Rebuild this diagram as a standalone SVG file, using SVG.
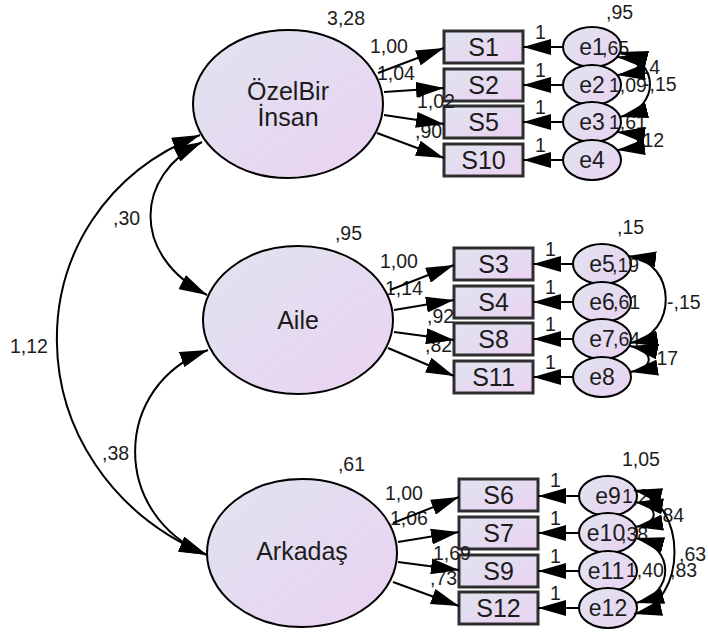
<svg xmlns="http://www.w3.org/2000/svg" width="708" height="634" viewBox="0 0 708 634">
<defs>
<linearGradient id="g" x1="0" y1="0" x2="1" y2="1">
<stop offset="0" stop-color="#dfe4ef"/>
<stop offset="1" stop-color="#ebd2f2"/>
</linearGradient>
<marker id="ah" markerUnits="userSpaceOnUse" markerWidth="28" markerHeight="16" viewBox="0 0 28 16" refX="28" refY="8" orient="auto-start-reverse">
<path d="M0,0 L28,8 L0,16 z" fill="#000"/>
</marker>
</defs>
<style>
.lat{fill:url(#g);stroke:#000;stroke-width:2}
.box{fill:url(#g);stroke:#2e2e2e;stroke-width:3}
.err{fill:url(#g);stroke:#000;stroke-width:2}
text{font-family:"Liberation Sans",Arial,sans-serif;fill:#1c1c1c}
.tl{font-size:25px;text-anchor:middle}
.tb{font-size:25px;text-anchor:middle}
.te{font-size:23px;text-anchor:middle}
.n{font-size:19.5px}
.ne{font-size:19.5px;text-anchor:end}
#connectors path,#connectors line{fill:none;stroke:#000;stroke-width:2}
.d{marker-end:url(#ah)}
.dd{marker-start:url(#ah);marker-end:url(#ah)}
</style>
<rect width="708" height="634" fill="#fff"/>

<g id="OzelBirInsan"><ellipse class="lat" cx="288" cy="104" rx="95" ry="74"/><text class="tl" x="288" y="100">ÖzelBir</text><text class="tl" x="288" y="126">İnsan</text></g>
<g id="Aile"><ellipse class="lat" cx="298" cy="320" rx="95" ry="74"/><text class="tl" x="298" y="329">Aile</text></g>
<g id="Arkadas"><ellipse class="lat" cx="302" cy="553" rx="95" ry="74"/><text class="tl" x="302" y="560">Arkadaş</text></g>

<g id="S1"><rect class="box" x="444" y="31" width="79" height="32"/><text class="tb" x="483.5" y="56">S1</text></g>
<g id="S2"><rect class="box" x="444" y="69" width="79" height="32"/><text class="tb" x="483.5" y="94">S2</text></g>
<g id="S5"><rect class="box" x="444" y="106" width="79" height="32"/><text class="tb" x="483.5" y="131">S5</text></g>
<g id="S10"><rect class="box" x="444" y="144" width="79" height="32"/><text class="tb" x="483.5" y="169">S10</text></g>

<g id="S3"><rect class="box" x="454" y="248" width="79" height="32"/><text class="tb" x="493.5" y="273">S3</text></g>
<g id="S4"><rect class="box" x="454" y="286" width="79" height="32"/><text class="tb" x="493.5" y="311">S4</text></g>
<g id="S8"><rect class="box" x="454" y="323" width="79" height="32"/><text class="tb" x="493.5" y="348">S8</text></g>
<g id="S11"><rect class="box" x="454" y="361" width="79" height="32"/><text class="tb" x="493.5" y="386">S11</text></g>

<g id="S6"><rect class="box" x="459" y="479" width="79" height="32"/><text class="tb" x="498.5" y="504">S6</text></g>
<g id="S7"><rect class="box" x="459" y="517" width="79" height="32"/><text class="tb" x="498.5" y="542">S7</text></g>
<g id="S9"><rect class="box" x="459" y="555" width="79" height="32"/><text class="tb" x="498.5" y="580">S9</text></g>
<g id="S12"><rect class="box" x="459" y="592" width="79" height="32"/><text class="tb" x="498.5" y="617">S12</text></g>

<g id="e1"><ellipse class="err" cx="592" cy="47" rx="29" ry="20"/><text class="te" x="592" y="55">e1</text></g>
<g id="e2"><ellipse class="err" cx="592" cy="85" rx="29" ry="20"/><text class="te" x="592" y="93">e2</text></g>
<g id="e3"><ellipse class="err" cx="592" cy="122" rx="29" ry="20"/><text class="te" x="592" y="130">e3</text></g>
<g id="e4"><ellipse class="err" cx="592" cy="160" rx="29" ry="20"/><text class="te" x="592" y="168">e4</text></g>

<g id="e5"><ellipse class="err" cx="602" cy="264" rx="29" ry="20"/><text class="te" x="602" y="272">e5</text></g>
<g id="e6"><ellipse class="err" cx="602" cy="302" rx="29" ry="20"/><text class="te" x="602" y="310">e6</text></g>
<g id="e7"><ellipse class="err" cx="602" cy="339" rx="29" ry="20"/><text class="te" x="602" y="347">e7</text></g>
<g id="e8"><ellipse class="err" cx="602" cy="377" rx="29" ry="20"/><text class="te" x="602" y="385">e8</text></g>

<g id="e9"><ellipse class="err" cx="608" cy="496" rx="29" ry="20"/><text class="te" x="608" y="504">e9</text></g>
<g id="e10"><ellipse class="err" cx="608" cy="533" rx="29" ry="20"/><text class="te" x="606" y="541">e10</text></g>
<g id="e11"><ellipse class="err" cx="608" cy="571" rx="29" ry="20"/><text class="te" x="606" y="579">e11</text></g>
<g id="e12"><ellipse class="err" cx="608" cy="608" rx="29" ry="20"/><text class="te" x="608" y="616">e12</text></g>

<g id="labels">
<text class="ne" x="365" y="25">3,28</text>
<text class="ne" x="362" y="240">,95</text>
<text class="ne" x="365" y="471">,61</text>
<text class="n" x="10" y="353">1,12</text>
<text class="n" x="113" y="225">,30</text>
<text class="n" x="102" y="460">,38</text>

<text class="n" x="370" y="53">1,00</text>
<text class="n" x="377" y="80">1,04</text>
<text class="n" x="417" y="108">1,02</text>
<text class="n" x="415" y="138">,90</text>
<text class="n" x="380" y="268">1,00</text>
<text class="n" x="385" y="295">1,14</text>
<text class="n" x="427" y="323">,92</text>
<text class="n" x="425" y="352">,82</text>
<text class="n" x="385" y="500">1,00</text>
<text class="n" x="390" y="525">1,06</text>
<text class="n" x="433" y="560">1,69</text>
<text class="n" x="430" y="585">,73</text>

<text class="n" x="535" y="39">1</text>
<text class="n" x="535" y="77">1</text>
<text class="n" x="535" y="114">1</text>
<text class="n" x="535" y="152">1</text>
<text class="n" x="545" y="256">1</text>
<text class="n" x="545" y="294">1</text>
<text class="n" x="545" y="331">1</text>
<text class="n" x="545" y="369">1</text>
<text class="n" x="550" y="487">1</text>
<text class="n" x="550" y="525">1</text>
<text class="n" x="550" y="563">1</text>
<text class="n" x="550" y="600">1</text>

<text class="n" x="606" y="19">,95</text>
<text class="n" x="602" y="55">,65</text>
<text class="n" x="633" y="74">,14</text>
<text class="n" x="609" y="92">1,09</text>
<text class="n" x="643" y="91">-,15</text>
<text class="n" x="609" y="129">1,61</text>
<text class="n" x="637" y="147">,12</text>

<text class="n" x="617" y="234">,15</text>
<text class="n" x="612" y="272">,19</text>
<text class="n" x="613" y="309">,61</text>
<text class="n" x="613" y="346">,64</text>
<text class="n" x="667" y="309">-,15</text>
<text class="n" x="651" y="365">,17</text>

<text class="n" x="622" y="466">1,05</text>
<text class="n" x="622" y="503">1,24</text>
<text class="n" x="621" y="541">,38</text>
<text class="n" x="626" y="577">1,40</text>
<text class="n" x="657" y="522">,84</text>
<text class="n" x="679" y="561">,63</text>
<text class="n" x="670" y="577">,83</text>
</g>

<g id="connectors">
<path class="dd" d="M200,135 C8,210 8,470 207,555"/>
<path class="dd" d="M202,142 C135,175 130,255 207,295"/>
<path class="dd" d="M208,350 C112,385 110,515 207,555"/>

<line class="d" x1="378" y1="73" x2="444" y2="48"/>
<line class="d" x1="384" y1="92" x2="444" y2="88"/>
<line class="d" x1="384" y1="115" x2="444" y2="124"/>
<line class="d" x1="377" y1="133" x2="444" y2="158"/>
<line class="d" x1="390" y1="290" x2="454" y2="265"/>
<line class="d" x1="394" y1="310" x2="454" y2="300"/>
<line class="d" x1="394" y1="332" x2="454" y2="340"/>
<line class="d" x1="388" y1="348" x2="454" y2="376"/>
<line class="d" x1="393" y1="523" x2="459" y2="497"/>
<line class="d" x1="398" y1="542" x2="459" y2="532"/>
<line class="d" x1="398" y1="562" x2="459" y2="570"/>
<line class="d" x1="393" y1="582" x2="459" y2="606"/>

<line class="d" x1="563" y1="47" x2="523" y2="47"/>
<line class="d" x1="563" y1="85" x2="523" y2="85"/>
<line class="d" x1="563" y1="122" x2="523" y2="122"/>
<line class="d" x1="563" y1="160" x2="523" y2="160"/>
<line class="d" x1="573" y1="264" x2="533" y2="264"/>
<line class="d" x1="573" y1="302" x2="533" y2="302"/>
<line class="d" x1="573" y1="339" x2="533" y2="339"/>
<line class="d" x1="573" y1="377" x2="533" y2="377"/>
<line class="d" x1="579" y1="496" x2="538" y2="496"/>
<line class="d" x1="579" y1="533" x2="538" y2="533"/>
<line class="d" x1="579" y1="571" x2="538" y2="571"/>
<line class="d" x1="579" y1="608" x2="538" y2="608"/>

<path class="dd" d="M617,57 C645,60 645,72 617,75"/>
<path class="dd" d="M620,52 C660,62 660,107 620,117"/>
<path class="dd" d="M617,132 C645,135 645,147 617,150"/>

<path class="dd" d="M628,256 C678,262 678,335 630,343"/>
<path class="dd" d="M630,346 C655,351 655,368 630,372"/>

<path class="dd" d="M635,502 C660,506 660,523 635,527"/>
<path class="dd" d="M636,538 C675,548 675,593 636,603"/>
<path class="dd" d="M634,490 C688,502 688,602 634,614"/>
</g>
</svg>
